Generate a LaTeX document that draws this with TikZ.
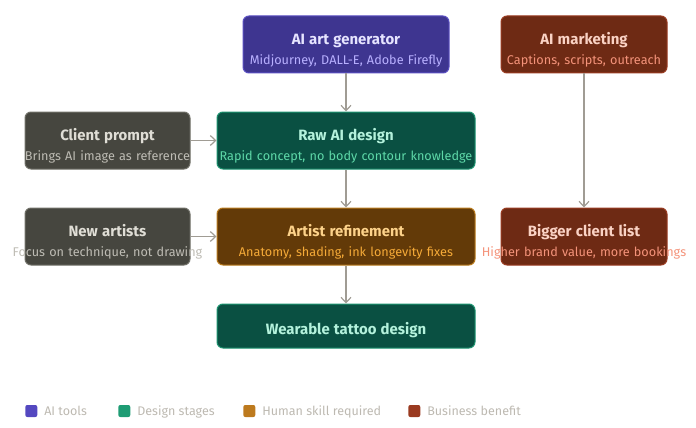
\documentclass[tikz,border=0pt]{standalone}
\usepackage{fontspec}
\setmainfont{Fira Sans}
\usetikzlibrary{arrows.meta}

\definecolor{aifill}{HTML}{3E3590}
\definecolor{aidraw}{HTML}{5B50C2}
\definecolor{aititle}{HTML}{E6E4FF}
\definecolor{aisub}{HTML}{B8B0FF}
\definecolor{stfill}{HTML}{0A5042}
\definecolor{stdraw}{HTML}{1D9470}
\definecolor{sttitle}{HTML}{B4F2DC}
\definecolor{stsub}{HTML}{5ED8A8}
\definecolor{skfill}{HTML}{633A08}
\definecolor{skdraw}{HTML}{B87A1C}
\definecolor{sktitle}{HTML}{FDD28A}
\definecolor{sksub}{HTML}{F5AA38}
\definecolor{bzfill}{HTML}{6E2A14}
\definecolor{bzdraw}{HTML}{9A3C22}
\definecolor{bztitle}{HTML}{FAD2C4}
\definecolor{bzsub}{HTML}{F4937A}
\definecolor{gyfill}{HTML}{46463F}
\definecolor{gydraw}{HTML}{707068}
\definecolor{gytitle}{HTML}{E0DED6}
\definecolor{gysub}{HTML}{BEBCB4}
\definecolor{aikey}{HTML}{5448C0}
\definecolor{stkey}{HTML}{1E9C74}
\definecolor{skkey}{HTML}{BD7A1E}
\definecolor{bzkey}{HTML}{9A3A20}
\definecolor{linkgray}{HTML}{A09C94}
\definecolor{keygray}{HTML}{BDB9B1}

% title over subtitle, each line centred even if it is wider than the box
\newcommand{\twolines}[2]{\rule{0pt}{18pt}\makebox[\hsize]{\fontsize{11.2}{15}\selectfont\bfseries\color{titlecol}#1}\\\makebox[\hsize]{#2}\rule[-3pt]{0pt}{0pt}}
\newcommand{\oneline}[1]{\rule{0pt}{15.5pt}\makebox[\hsize]{\fontsize{11.2}{15}\selectfont\bfseries\color{titlecol}#1}\rule[-3pt]{0pt}{0pt}}

\begin{document}
\begin{tikzpicture}[x=0.75pt, y=-0.75pt,
    box/.style={rounded corners=4.5pt, line width=0.75pt, inner sep=0pt,
      minimum height=42.75pt, align=center, font=\fontsize{9.5}{15}\selectfont},
    aitool/.style={box, fill=aifill, draw=aidraw, text=aisub,
      execute at begin node=\colorlet{titlecol}{aititle}},
    stage/.style={box, fill=stfill, draw=stdraw, text=stsub,
      execute at begin node=\colorlet{titlecol}{sttitle}},
    skill/.style={box, fill=skfill, draw=skdraw, text=sksub,
      execute at begin node=\colorlet{titlecol}{sktitle}},
    benefit/.style={box, fill=bzfill, draw=bzdraw, text=bzsub,
      execute at begin node=\colorlet{titlecol}{bztitle}},
    input/.style={box, fill=gyfill, draw=gydraw, text=gysub,
      execute at begin node=\colorlet{titlecol}{gytitle}},
    link/.style={draw=linkgray, line width=0.9pt, -{Straight Barb[length=4pt, width=7.5pt]}},
    keybox/.style={minimum size=9pt, inner sep=0pt, rounded corners=1.5pt},
    keytext/.style={anchor=base west, inner sep=0pt, text=keygray, font=\fontsize{9.4}{11}\selectfont}]
    \useasboundingbox (0,0) rectangle (696,428);

    \node[aitool, text width=154.5pt] (gen) at (346,44.5)
      {\twolines{AI art generator}{Midjourney, DALL-E, Adobe Firefly}};
    \node[benefit, text width=124.5pt] (mkt) at (584,44.5)
      {\twolines{AI marketing}{Captions, scripts, outreach}};
    \node[input, text width=123.75pt] (prompt) at (107.5,140.5)
      {\twolines{Client prompt}{Brings AI image as reference}};
    \node[stage, text width=193.5pt] (raw) at (346,140.5)
      {\twolines{Raw AI design}{Rapid concept, no body contour knowledge}};
    \node[input, text width=123.75pt] (newart) at (107.5,236.5)
      {\twolines{New artists}{Focus on technique, not drawing}};
    \node[skill, text width=193.5pt] (refine) at (346,236.5)
      {\twolines{Artist refinement}{Anatomy, shading, ink longevity fixes}};
    \node[benefit, text width=124.5pt] (bigger) at (584,236.5)
      {\twolines{Bigger client list}{Higher brand value, more bookings}};
    \node[stage, text width=193.5pt, minimum height=33pt] (wear) at (346,326)
      {\oneline{Wearable tattoo design}};

    \draw[link] (gen) -- (raw);
    \draw[link] (prompt) -- (raw);
    \draw[link] (raw) -- (refine);
    \draw[link] (newart) -- (refine);
    \draw[link] (refine) -- (wear);
    \draw[link] (mkt) -- (bigger);

    % legend
    \foreach \x/\col/\txt in {25/aikey/AI tools, 118/stkey/Design stages,
        243/skkey/Human skill required, 408/bzkey/Business benefit} {
      \node[keybox, fill=\col] (key\x) at (\x+6.3,411) {};
      \node[keytext] (keytext\x) at (\x+19,415.7) {\txt};
    }
\end{tikzpicture}
\end{document}
